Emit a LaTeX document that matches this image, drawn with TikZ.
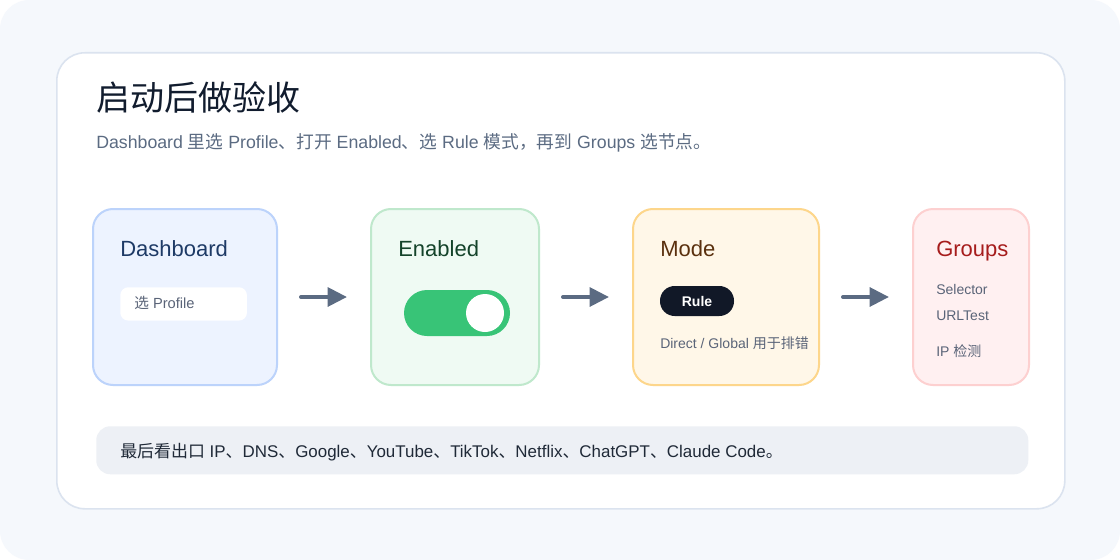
\documentclass[tikz,border=0pt]{standalone}
\usepackage{fontspec}
\setmainfont{Liberation Sans}
\newfontfamily\cjk{Noto Sans CJK SC}
\usetikzlibrary{arrows.meta,positioning}
\definecolor{pagebg}{HTML}{F5F8FC}
\definecolor{cardline}{HTML}{DBE3EF}
\definecolor{ink}{HTML}{111C2E}
\definecolor{slate}{HTML}{5B6B82}
\definecolor{notegray}{HTML}{5A6478}
\definecolor{bluefill}{HTML}{EDF3FF}
\definecolor{blueline}{HTML}{BCD3FB}
\definecolor{bluetext}{HTML}{1E3A66}
\definecolor{greenfill}{HTML}{EFFAF3}
\definecolor{greenline}{HTML}{BFE8CC}
\definecolor{greentext}{HTML}{14432A}
\definecolor{toggle}{HTML}{38C477}
\definecolor{amberfill}{HTML}{FFF7E8}
\definecolor{amberline}{HTML}{FDD68B}
\definecolor{ambertext}{HTML}{5A300E}
\definecolor{pilldark}{HTML}{111827}
\definecolor{redfill}{HTML}{FFF0F1}
\definecolor{redline}{HTML}{FDD0D0}
\definecolor{redtext}{HTML}{A61C1C}
\definecolor{barfill}{HTML}{EDF0F5}
\definecolor{bartext}{HTML}{1F2937}
\tikzset{
  stage/.style={draw, line width=1.5pt, rounded corners=15pt, anchor=north west,
    inner sep=0pt, minimum height=132pt},
  stagetitle/.style={anchor=base west, inner sep=0pt, font=\fontsize{16.5}{20}\selectfont},
  note/.style={anchor=base west, inner sep=0pt, text=notegray, font=\fontsize{10.5}{13}\selectfont},
  flow/.style={draw=slate, line width=3pt, line cap=round,
    -{Triangle[length=14.5pt,width=14pt]}},
}
\begin{document}
\begin{tikzpicture}[x=0.75pt,y=-0.75pt]
  \useasboundingbox (0,0) rectangle (1120,560);
  \fill[white] (0,0) rectangle (1120,560);
  \fill[pagebg, rounded corners=22pt] (0,0) rectangle (1120,560);
  % card
  \node[draw=cardline, fill=white, line width=1.2pt, rounded corners=21pt,
    anchor=north west, minimum width=756pt, minimum height=342pt] (card) at (56,52) {};
  \node[anchor=base west, inner sep=0pt, text=ink, font=\cjk\fontsize{25.5}{30}\selectfont] (title) at (96,110) {启动后做验收};
  \node[anchor=base west, inner sep=0pt, text=slate, font=\fontsize{13.3}{16}\selectfont] (sub) at (96,148)
    {Dashboard {\cjk 里选} Profile{\cjk 、打开} Enabled{\cjk 、选} Rule {\cjk 模式，再到} Groups {\cjk 选节点。}};

  % stages
  \node[stage, draw=blueline, fill=bluefill, minimum width=138pt] (dash) at (92,208) {};
  \node[stage, draw=greenline, fill=greenfill, minimum width=126pt] (enab) at (370,208) {};
  \node[stage, draw=amberline, fill=amberfill, minimum width=139.5pt] (mode) at (632,208) {};
  \node[stage, draw=redline, fill=redfill, minimum width=87pt] (grp) at (912,208) {};

  \node[stagetitle, text=bluetext] (dashtitle) at (120,256) {Dashboard};
  \node[stagetitle, text=greentext] (enabtitle) at (398,256) {Enabled};
  \node[stagetitle, text=ambertext] (modetitle) at (660,256) {Mode};
  \node[stagetitle, text=redtext] (grptitle) at (936,256) {Groups};

  % Dashboard
  \node[fill=white, rounded corners=6pt, anchor=north west, minimum width=95pt,
    minimum height=25pt] (profpill) at (120,287) {};
  \node[note, font=\fontsize{11}{13}\selectfont] (prof) at (134,308) {{\cjk 选} Profile};

  % Enabled
  \node[fill=toggle, rounded corners=17.25pt, minimum width=79.5pt,
    minimum height=34.5pt] (switch) at (457,313) {};
  \node[circle, fill=white, inner sep=0pt, minimum size=28.5pt] (knob) at (485,313) {};

  % Mode
  \node[fill=pilldark, rounded corners=11pt, minimum width=55.5pt, minimum height=22.5pt,
    text=white, font=\bfseries\fontsize{10.5}{13}\selectfont] (rule) at (697,301) {Rule};
  \node[note] (other) at (660,348) {Direct / Global {\cjk 用于排错}};

  % Groups
  \node[note] (sel) at (936,294) {Selector};
  \node[note] (url) at (936,320) {URLTest};
  \node[note] (ipchk) at (936,356) {IP {\cjk 检测}};

  % arrows
  \draw[flow] ([xshift=17.25pt]dash.east) -- ([xshift=-17.25pt]enab.west);
  \draw[flow] ([xshift=17.25pt]enab.east) -- ([xshift=-17.25pt]mode.west);
  \draw[flow] ([xshift=17.25pt]mode.east) -- ([xshift=-17.25pt]grp.west);

  % bottom bar
  \node[fill=barfill, rounded corners=10.5pt, anchor=north west, minimum width=699pt,
    minimum height=36pt] (bar) at (96,426) {};
  \node[anchor=base west, inner sep=0pt, text=bartext, font=\fontsize{12.7}{15}\selectfont] (checks) at (120,457)
    {{\cjk 最后看出口} IP{\cjk 、}DNS{\cjk 、}Google{\cjk 、}YouTube{\cjk 、}TikTok{\cjk 、}Netflix{\cjk 、}ChatGPT{\cjk 、}Claude Code{\cjk 。}};
\end{tikzpicture}
\end{document}
